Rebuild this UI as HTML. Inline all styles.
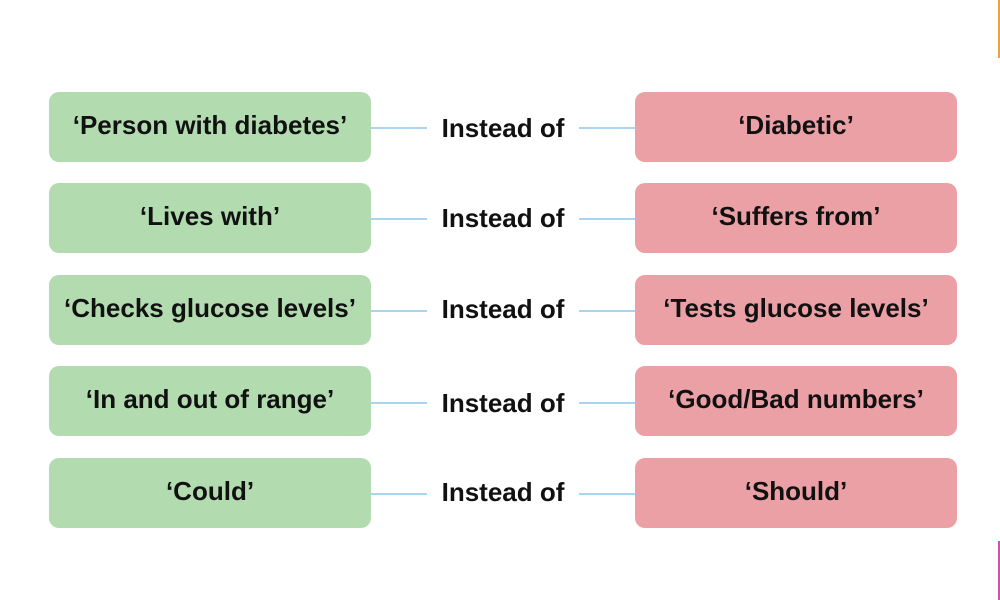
<!DOCTYPE html>
<html><head><style>
body{margin:0;width:1000px;height:600px;background:#fff;position:relative;overflow:hidden;font-family:"Liberation Sans",Arial,sans-serif;font-weight:bold;}
.b{position:absolute;width:322px;height:70px;border-radius:10px;display:flex;align-items:center;justify-content:center;font-size:26px;color:#111;padding-bottom:3px;box-sizing:border-box;}
.g{left:49px;background:#b2dcb0;}
.r{left:635px;background:#eba0a6;}
.l{position:absolute;height:2px;background:#a8d6f0;}
.t{position:absolute;left:427px;width:152px;text-align:center;font-size:26px;color:#111;line-height:30px;}
</style></head><body>
<div style="position:absolute;left:998px;top:0;width:2px;height:58px;background:#f0a040"></div>
<div style="position:absolute;left:998px;top:541px;width:2px;height:59px;background:#d050b0"></div>

<div class="b g" style="top:92px">‘Person with diabetes’</div>
<div class="b r" style="top:92px">‘Diabetic’</div>
<div class="l" style="left:371px;width:56px;top:127px"></div>
<div class="l" style="left:579px;width:56px;top:127px"></div>
<div class="t" style="top:113px">Instead of</div>

<div class="b g" style="top:183px">‘Lives with’</div>
<div class="b r" style="top:183px">‘Suffers from’</div>
<div class="l" style="left:371px;width:56px;top:218px"></div>
<div class="l" style="left:579px;width:56px;top:218px"></div>
<div class="t" style="top:203px">Instead of</div>

<div class="b g" style="top:275px">‘Checks glucose levels’</div>
<div class="b r" style="top:275px">‘Tests glucose levels’</div>
<div class="l" style="left:371px;width:56px;top:310px"></div>
<div class="l" style="left:579px;width:56px;top:310px"></div>
<div class="t" style="top:294px">Instead of</div>

<div class="b g" style="top:366px">‘In and out of range’</div>
<div class="b r" style="top:366px">‘Good/Bad numbers’</div>
<div class="l" style="left:371px;width:56px;top:402px"></div>
<div class="l" style="left:579px;width:56px;top:402px"></div>
<div class="t" style="top:388px">Instead of</div>

<div class="b g" style="top:458px">‘Could’</div>
<div class="b r" style="top:458px">‘Should’</div>
<div class="l" style="left:371px;width:56px;top:493px"></div>
<div class="l" style="left:579px;width:56px;top:493px"></div>
<div class="t" style="top:477px">Instead of</div>
</body></html>
